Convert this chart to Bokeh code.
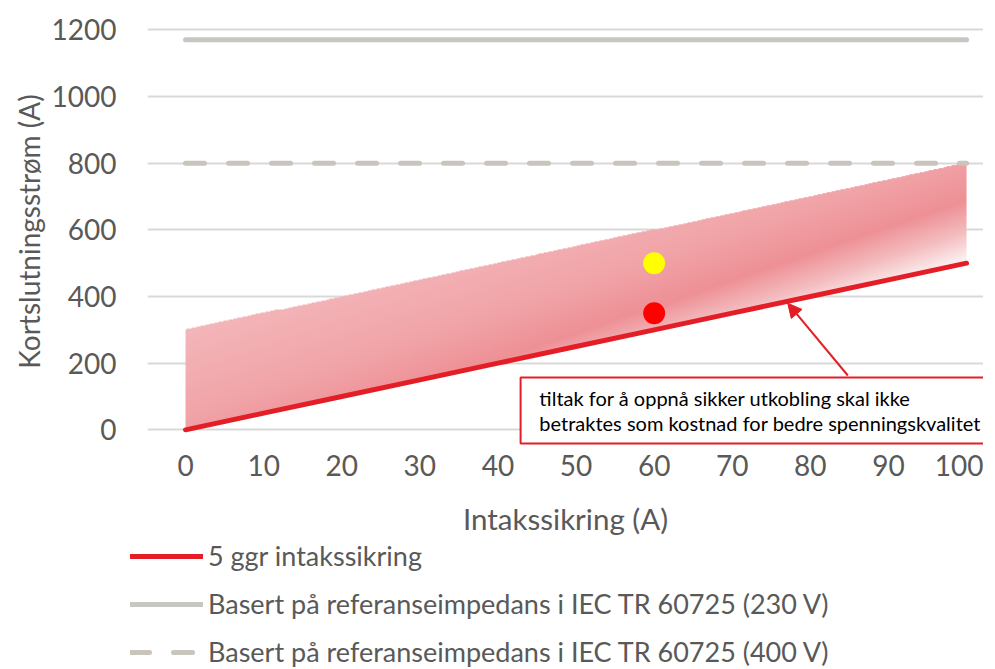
import numpy as np
from bokeh.plotting import figure
from bokeh.models import (Range1d, Legend, LegendItem, Arrow, NormalHead,
                          FixedTicker, Label)
from bokeh.embed import file_html
from bokeh.resources import INLINE

# ---------------- data ----------------
fuse_a = [0, 10, 20, 30, 40, 50, 60, 70, 80, 90, 100]
five_times_fuse = [0, 50, 100, 150, 200, 250, 300, 350, 400, 450, 500]
ref_230v = [1170, 1170, 1170, 1170, 1170, 1170, 1170, 1170, 1170, 1170, 1170]
ref_400v = [800, 800, 800, 800, 800, 800, 800, 800, 800, 800, 800]
band_upper = [300, 350, 400, 450, 500, 550, 600, 650, 700, 750, 800]
point_x = [60, 60]
point_y = [500, 350]
point_colors = ["#ffff00", "#ff0000"]
x_ticks = [0, 10, 20, 30, 40, 50, 60, 70, 80, 90, 100]
y_ticks = [0, 200, 400, 600, 800, 1000, 1200]
legend_labels = ["5 ggr intakssikring",
                 "Basert på referanseimpedans i IEC TR 60725 (230 V)",
                 "Basert på referanseimpedans i IEC TR 60725 (400 V)"]
note_lines = ["tiltak for å oppnå sikker utkobling skal ikke",
              "betraktes som kostnad for bedre spenningskvalitet"]

FONT = "Lato"
TXT = "#595959"
RED = "#e41e26"
GREY = "#c8c6c3"
DGREY = "#c9c4bc"

p = figure(frame_width=836, frame_height=430, output_backend="svg",
           toolbar_location=None,
           x_range=Range1d(-4.87, 102.17), y_range=Range1d(-50, 1240),
           min_border_left=147, min_border_right=0, min_border_top=16,
           min_border_bottom=92, background_fill_color="white",
           border_fill_color="white", outline_line_color=None)

# ---------------- gradient band (computed from the band arrays) ----------------
x0, x1 = min(fuse_a), max(fuse_a)
y0, y1 = min(five_times_fuse), max(band_upper)
nx, ny = 800, 270
xs = np.linspace(x0, x1, nx)
ys = np.linspace(y0, y1, ny)
X, Y = np.meshgrid(xs, ys)
lo = np.interp(X, fuse_a, five_times_fuse)
hi = np.interp(X, fuse_a, band_upper)
inside = (Y >= lo) & (Y <= hi)
s = ((X - x0) / (x1 - x0) + (1 - (Y - y0) / (y1 - y0))) / 2
stops = [0.30, 0.48, 0.57, 0.63, 0.68, 0.71]
rs = [244, 241, 238, 244, 252, 255]
gs = [184, 164, 145, 190, 240, 255]
bs = [187, 168, 150, 193, 240, 255]
R = np.interp(s, stops, rs)
G = np.interp(s, stops, gs)
B = np.interp(s, stops, bs)
img = np.zeros((ny, nx), dtype=np.uint32)
view = img.view(dtype=np.uint8).reshape((ny, nx, 4))
view[:, :, 0] = R.astype(np.uint8)
view[:, :, 1] = G.astype(np.uint8)
view[:, :, 2] = B.astype(np.uint8)
view[:, :, 3] = np.where(inside, 255, 0).astype(np.uint8)
p.image_rgba(image=[img], x=x0, y=y0, dw=x1 - x0, dh=y1 - y0)

# ---------------- lines ----------------
p.line(fuse_a, five_times_fuse, line_color=RED, line_width=5, line_cap="round")
p.line(fuse_a, ref_230v, line_color=GREY, line_width=5, line_cap="round")
p.line(fuse_a, ref_400v, line_color=DGREY, line_width=5, line_cap="round",
       line_dash="19 24")

p.scatter(x=point_x, y=point_y, size=22, fill_color=point_colors, line_color=None)

# ---------------- annotation box, text and arrow ----------------
p.quad(left=[42.9], right=[120], top=[157], bottom=[-41], fill_color="white",
       line_color=RED, line_width=2)
for i, t in enumerate(note_lines):
    p.add_layout(Label(x=45.3, y=[97, 22][i], text=t, text_font=FONT,
                       text_font_size="20px", text_color="black",
                       text_baseline="middle", text_align="left"))
p.add_layout(Arrow(end=NormalHead(size=14, fill_color=RED, line_color=RED),
                   x_start=84.8, y_start=163, x_end=77.1, y_end=380,
                   line_color=RED, line_width=2))

# ---------------- axes ----------------
p.xaxis.ticker = FixedTicker(ticks=x_ticks)
p.yaxis.ticker = FixedTicker(ticks=y_ticks)
for ax in (p.xaxis[0], p.yaxis[0]):
    ax.axis_line_color = None
    ax.major_tick_line_color = None
    ax.minor_tick_line_color = None
    ax.major_tick_out = 0
    ax.major_tick_in = 0
    ax.major_label_text_font = FONT
    ax.major_label_text_font_size = "28px"
    ax.major_label_text_color = TXT
    ax.axis_label_text_font = FONT
    ax.axis_label_text_font_size = "28px"
    ax.axis_label_text_color = TXT
    ax.axis_label_text_font_style = "normal"
p.xaxis.axis_label = "Intakssikring (A)"
p.yaxis.axis_label = "Kortslutningsstrøm (A)"
p.xaxis.axis_label_text_font_size = "29.5px"
p.yaxis.major_label_standoff = 31
p.yaxis.axis_label_standoff = 3
p.xaxis.major_label_standoff = 8
p.xaxis.axis_label_standoff = 22

p.xgrid.grid_line_color = None
p.ygrid.grid_line_color = "#d9d9d9"
p.ygrid.grid_line_width = 2

# ---------------- legend (separate strip below the chart) ----------------
lg = figure(width=975, height=130, output_backend="svg", toolbar_location=None,
            x_range=Range1d(0, 100), y_range=Range1d(-1000, -900),
            x_axis_type=None, y_axis_type=None, min_border=0,
            min_border_left=0, min_border_right=0, min_border_top=0,
            min_border_bottom=0,
            outline_line_color=None, background_fill_color="white",
            border_fill_color="white")
lg.xgrid.grid_line_color = None
lg.ygrid.grid_line_color = None
l_red = lg.line(fuse_a, five_times_fuse, line_color=RED, line_width=5, line_cap="round")
l_230 = lg.line(fuse_a, ref_230v, line_color=GREY, line_width=5, line_cap="round")
l_400 = lg.line(fuse_a, ref_400v, line_color=DGREY, line_width=5, line_cap="round",
                line_dash="19 24")
legend = Legend(items=[LegendItem(label=legend_labels[0], renderers=[l_red]),
                       LegendItem(label=legend_labels[1], renderers=[l_230]),
                       LegendItem(label=legend_labels[2], renderers=[l_400])],
                location=(130, 0), orientation="vertical",
                glyph_width=73, glyph_height=28,
                label_standoff=5, spacing=15, padding=0, margin=0,
                border_line_color=None, background_fill_alpha=0,
                label_text_font=FONT, label_text_font_size="27px",
                label_text_color=TXT)
lg.add_layout(legend, "center")

open("out.html", "w").write(file_html([p, lg], INLINE))
